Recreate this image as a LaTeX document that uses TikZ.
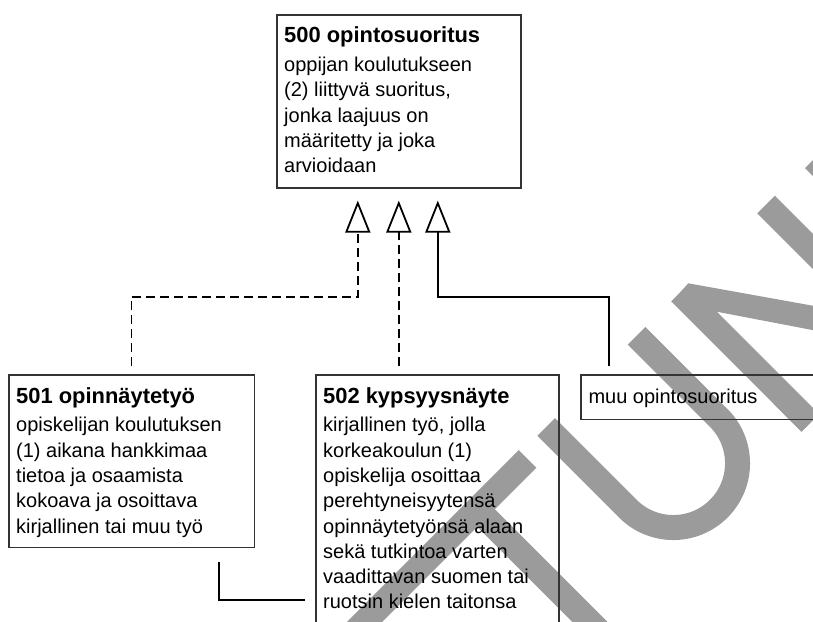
\documentclass[tikz,border=0pt]{standalone}
\usepackage{fontspec}
\setmainfont{Liberation Sans}
\usetikzlibrary{arrows.meta}
\definecolor{wmcol}{RGB}{155,155,155}
\definecolor{boxcol}{RGB}{51,51,51}
\begin{document}
\begin{tikzpicture}[x=1pt,y=-1pt,
  box/.style={draw=boxcol, line width=1.6pt, inner sep=0pt, anchor=north west},
  ttl/.style={anchor=base west, inner sep=0pt, font=\fontsize{21.9pt}{25.3pt}\selectfont\bfseries},
  bodytxt/.style={anchor=base west, inner sep=0pt, font=\fontsize{20pt}{25.3pt}\selectfont},
  conn/.style={draw=black, line width=1.8pt},
  dashconn/.style={conn, dash pattern=on 9pt off 5pt},
  gen/.style={-{Triangle[open, length=32pt, width=25pt]}},
  wm/.style={draw=wmcol, line width=25pt, line cap=butt}]
\useasboundingbox (0,0) rectangle (813,621);
\clip (0,0) rectangle (813,621);
% watermark
\draw[wm] (527.5,459) -- (340,646.5);
\draw[wm] (477,509) -- (640,672);
\draw[wm] (546.1,426.9) -- (627.9,508.7) .. controls (653.0,533.8) and (693.6,533.8) .. (718.7,508.7) .. controls (743.8,483.6) and (743.8,443.0) .. (718.7,417.9) -- (636.6,335.8);
\draw[wm] (680,292.5) -- (810.4,423);
\fill[wmcol] (671.7,301.7) -- (688.3,283.3) -- (900,321.4) -- (900,346.8) -- (716.7,311.7) -- cycle;
\draw[wm] (766,204.5) -- (900,338.5);
\draw[wm] (813.8,159.2) -- (900,245.4);
% boxes
\node[box, minimum width=244pt, minimum height=173pt] (b500) at (276,14) {};
\node[box, minimum width=245.5pt, minimum height=172.2pt] (b501) at (8,374.3) {};
\node[box, minimum width=243.3pt, minimum height=300pt] (b502) at (315,374.3) {};
\node[box, minimum width=300pt, minimum height=44.4pt] (bmuu) at (580.3,374.3) {};
% texts
\node[ttl] (t500) at ([shift={(8,28.7)}]b500.north west) {500 opintosuoritus};
\foreach \t [count=\i] in {oppijan koulutukseen, {(2) liittyvä suoritus,}, jonka laajuus on, määritetty ja joka, arvioidaan}
  \node[bodytxt] (l500-\i) at ([shift={(8,{57.5+(\i-1)*25.3})}]b500.north west) {\t};
\node[ttl] (t501) at ([shift={(8,28.7)}]b501.north west) {501 opinnäytetyö};
\foreach \t [count=\i] in {opiskelijan koulutuksen, (1) aikana hankkimaa, tietoa ja osaamista, kokoava ja osoittava, kirjallinen tai muu työ}
  \node[bodytxt] (l501-\i) at ([shift={(8,{57.5+(\i-1)*25.3})}]b501.north west) {\t};
\node[ttl] (t502) at ([shift={(8,28.7)}]b502.north west) {502 kypsyysnäyte};
\foreach \t [count=\i] in {{kirjallinen työ, jolla}, korkeakoulun (1), opiskelija osoittaa, perehtyneisyytensä, opinnäytetyönsä alaan, sekä tutkintoa varten, vaadittavan suomen tai, ruotsin kielen taitonsa}
  \node[bodytxt] (l502-\i) at ([shift={(8,{57.5+(\i-1)*25.3})}]b502.north west) {\t};
\node[bodytxt] (tmuu) at ([shift={(8,28.7)}]bmuu.north west) {muu opintosuoritus};
% connectors
\coordinate (h1) at ([shift={(-41,12)}]b500.south);
\coordinate (h2) at ([shift={(0,12)}]b500.south);
\coordinate (h3) at ([shift={(39,12)}]b500.south);
\coordinate (s2) at (h2 |- b502.north);
\draw[dashconn, gen] ([shift={(0,-8)}]b501.north) -- ++(0,-69.3) -| (h1);
\draw[dashconn, gen] ([shift={(0,-8)}]s2) -- (h2);
\draw[conn, gen] ([shift={(28.7,-8)}]bmuu.north west) -- ++(0,-69.3) -| (h3);
\coordinate (lend) at ([shift={(-10,225.7)}]b502.north west);
\draw[conn] ([shift={(-35.8,13.5)}]b501.south east) |- (lend);
\end{tikzpicture}
\end{document}
